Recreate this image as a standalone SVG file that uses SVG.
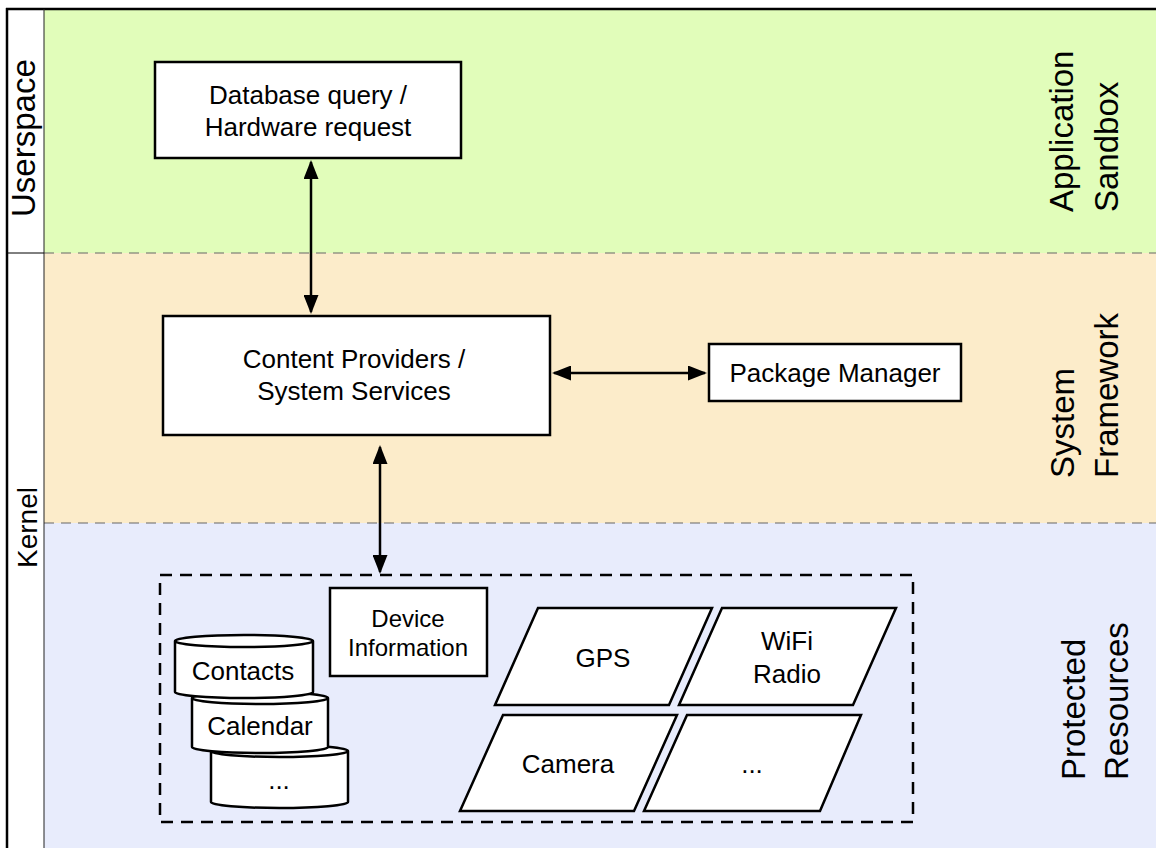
<svg xmlns="http://www.w3.org/2000/svg" width="1156" height="848" viewBox="0 0 1156 848">
  <style>
    text { font-family: "Liberation Sans", Arial, sans-serif; fill: #000; }
    .lbl { font-size: 26px; text-anchor: middle; }
    .small { font-size: 24px; text-anchor: middle; }
    .side { font-size: 33px; }
    .box { fill: #fff; stroke: #000; stroke-width: 2.5; }
    .band-line { stroke: #666; stroke-width: 1; stroke-dasharray: 10 7; fill: none; }
    .conn { stroke: #000; stroke-width: 2.5; fill: none; marker-start: url(#arrow); marker-end: url(#arrow); }
  </style>
  <defs>
    <marker id="arrow" viewBox="0 0 19 15" markerWidth="19" markerHeight="15" refX="17" refY="7.5" markerUnits="userSpaceOnUse" orient="auto-start-reverse">
      <path d="M0,0 L19,7.5 L0,15 Z" fill="#000"/>
    </marker>
  </defs>

  <!-- layer bands -->
  <g id="layers">
    <rect x="0" y="0" width="1156" height="848" fill="#fff"/>
    <rect x="44" y="9" width="1112" height="244" fill="#e1fdba"/>
    <rect x="44" y="253" width="1112" height="270" fill="#fcecca"/>
    <rect x="44" y="523" width="1112" height="325" fill="#e8ecfc"/>
    <line class="band-line" x1="44" y1="253" x2="1156" y2="253"/>
    <line class="band-line" x1="44" y1="523" x2="1156" y2="523"/>
    <!-- frame and privilege column -->
    <line x1="6" y1="9" x2="1156" y2="9" stroke="#000" stroke-width="2.5"/>
    <line x1="7" y1="8" x2="7" y2="848" stroke="#000" stroke-width="2.5"/>
    <line x1="44" y1="9" x2="44" y2="848" stroke="#222" stroke-width="1"/>
    <line x1="7" y1="253" x2="44" y2="253" stroke="#000" stroke-width="1"/>
  </g>

  <g id="layer-labels">
    <text class="side" transform="translate(35,217) rotate(-90)">Userspace</text>
    <text style="font-size:28px" transform="translate(37,568) rotate(-90)">Kernel</text>
    <text class="side" transform="translate(1073,212) rotate(-90)">Application</text>
    <text class="side" transform="translate(1118,212) rotate(-90)">Sandbox</text>
    <text class="side" transform="translate(1074,478) rotate(-90)">System</text>
    <text class="side" transform="translate(1118,478) rotate(-90)">Framework</text>
    <text class="side" transform="translate(1085,780) rotate(-90)">Protected</text>
    <text class="side" transform="translate(1128,780) rotate(-90)">Resources</text>
  </g>

  <!-- connectors -->
  <g id="connectors">
    <line class="conn" x1="311" y1="162" x2="311" y2="312"/>
    <line class="conn" x1="554" y1="373" x2="705" y2="373"/>
    <line class="conn" x1="380" y1="447" x2="380" y2="572"/>
  </g>

  <g id="request">
    <rect class="box" x="155" y="62" width="306" height="96"/>
    <text class="lbl" x="308" y="104">Database query /</text>
    <text class="lbl" x="308" y="136">Hardware request</text>
  </g>

  <g id="providers">
    <rect class="box" x="163" y="316" width="387" height="119"/>
    <text class="lbl" x="354" y="368">Content Providers /</text>
    <text class="lbl" x="354" y="400">System Services</text>
  </g>

  <g id="package-manager">
    <rect class="box" x="709" y="344" width="252" height="57"/>
    <text class="lbl" x="835" y="382">Package Manager</text>
  </g>

  <g id="resources">
    <rect x="160" y="575" width="753" height="247" fill="none" stroke="#000" stroke-width="2.5" stroke-dasharray="12 8"/>
  </g>

  <g id="device-information">
    <rect class="box" x="330" y="588" width="157" height="88"/>
    <text class="small" x="408" y="627">Device</text>
    <text class="small" x="408" y="656">Information</text>
  </g>

  <!-- stacked data stores, back to front -->
  <g id="store-more">
    <path class="box" d="M211,751 V802 A68.5,6 0 0 0 348,802 V751 A68.5,6 0 0 0 211,751 Z M211,751 A68.5,6 0 0 0 348,751"/>
    <text class="lbl" x="279" y="789">...</text>
  </g>
  <g id="calendar">
    <path class="box" d="M192,698 V747 A68,6 0 0 0 328,747 V698 A68,6 0 0 0 192,698 Z M192,698 A68,6 0 0 0 328,698"/>
    <text class="lbl" x="260" y="735">Calendar</text>
  </g>
  <g id="contacts">
    <path class="box" d="M175,641 V692 A69,6 0 0 0 313,692 V641 A69,6 0 0 0 175,641 Z M175,641 A69,6 0 0 0 313,641"/>
    <text class="lbl" x="243" y="680">Contacts</text>
  </g>

  <!-- hardware devices -->
  <g id="gps">
    <polygon class="box" points="538,608 712,608 669,705 495,705"/>
    <text class="lbl" x="603" y="667">GPS</text>
  </g>
  <g id="wifi">
    <polygon class="box" points="722,608 896,608 853,705 679,705"/>
    <text class="lbl" x="787" y="650">WiFi</text>
    <text class="lbl" x="787" y="683">Radio</text>
  </g>
  <g id="camera">
    <polygon class="box" points="503,715 677,715 634,811 460,811"/>
    <text class="lbl" x="568" y="773">Camera</text>
  </g>
  <g id="device-more">
    <polygon class="box" points="687,715 861,715 820,811 644,811"/>
    <text class="lbl" x="752" y="773">...</text>
  </g>
</svg>
